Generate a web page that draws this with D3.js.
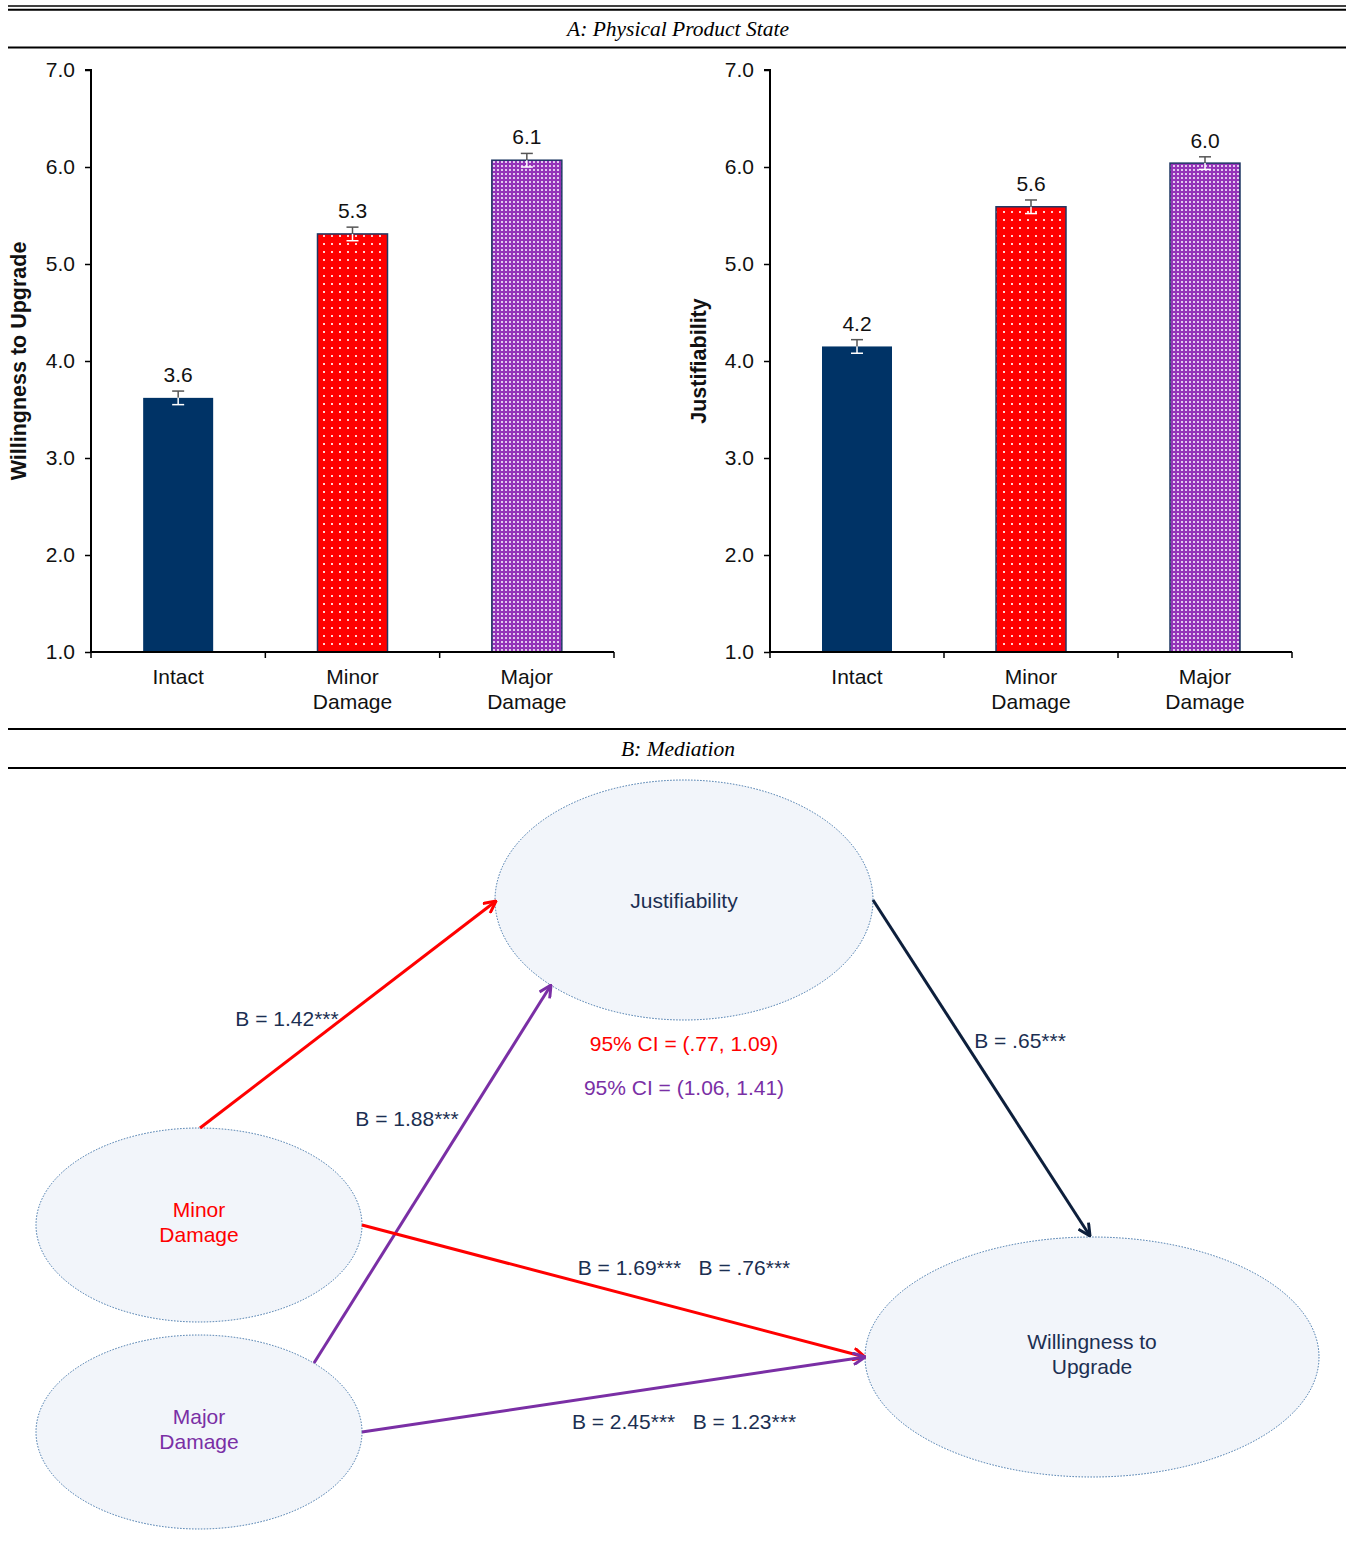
<!DOCTYPE html>
<html>
<head>
<meta charset="utf-8">
<script src="https://cdn.jsdelivr.net/npm/d3@7"></script>
<style>
  body { margin: 0; background: #fff; }
  svg text { font-family: "Liberation Sans", Arial, sans-serif; }
  .hdr { font-family: "Liberation Serif", "Times New Roman", serif !important; font-style: italic; font-size: 21.5px; }
</style>
</head>
<body>
<svg id="chart" width="1346" height="1557"></svg>
<script>
// ---- data ----
const categories = ["Intact", "Minor Damage", "Major Damage"];
const catLines = [["Intact"], ["Minor", "Damage"], ["Major", "Damage"]];
const willingness = [3.62, 5.31, 6.07];
const willingnessLabels = ["3.6", "5.3", "6.1"];
const willingnessErr = [0.07, 0.07, 0.07];
const justifiability = [4.15, 5.59, 6.04];
const justifiabilityLabels = ["4.2", "5.6", "6.0"];
const justifiabilityErr = [0.07, 0.07, 0.065];
const yTicks = [1, 2, 3, 4, 5, 6, 7];

// mediation model
const nodes = [
  { id: "just", lines: ["Justifiability"], color: "#1b2f52", cx: 684, cy: 900, rx: 189, ry: 120 },
  { id: "minor", lines: ["Minor", "Damage"], color: "#ff0000", cx: 199, cy: 1225, rx: 163, ry: 97 },
  { id: "major", lines: ["Major", "Damage"], color: "#7a2fa5", cx: 199, cy: 1432, rx: 163, ry: 97 },
  { id: "wtu", lines: ["Willingness to", "Upgrade"], color: "#1b2f52", cx: 1092, cy: 1357, rx: 227, ry: 120 }
];
const paths = [
  { from: [200, 1128], to: [496, 901], color: "#ff0000" },
  { from: [314, 1363], to: [551, 985], color: "#7a2fa5" },
  { from: [873, 900], to: [1090, 1236], color: "#0d1f3c" },
  { from: [362, 1225], to: [865, 1357], color: "#ff0000" },
  { from: [362, 1432], to: [865, 1357], color: "#7a2fa5" }
];
const pathLabels = [
  { text: "B = 1.42***", x: 287, y: 1018, color: "#1b2f52" },
  { text: "B = 1.88***", x: 407, y: 1118, color: "#1b2f52" },
  { text: "B = .65***", x: 1020, y: 1040, color: "#1b2f52" },
  { text: "B = 1.69***   B = .76***", x: 684, y: 1267, color: "#1b2f52" },
  { text: "B = 2.45***   B = 1.23***", x: 684, y: 1421, color: "#1b2f52" },
  { text: "95% CI = (.77, 1.09)", x: 684, y: 1043, color: "#ff0000" },
  { text: "95% CI = (1.06, 1.41)", x: 684, y: 1087, color: "#7a2fa5" }
];

const FS = 21;
const svg = d3.select("#chart");
const defs = svg.append("defs");

// bar fills
const pRed = defs.append("pattern").attr("id", "dotRed").attr("patternUnits", "userSpaceOnUse")
  .attr("width", 8).attr("height", 8);
pRed.append("rect").attr("width", 8).attr("height", 8).attr("fill", "#ff0000");
pRed.append("rect").attr("x", 3).attr("y", 3).attr("width", 2).attr("height", 2).attr("fill", "#ffd0d0");

const pPur = defs.append("pattern").attr("id", "dotPurple").attr("patternUnits", "userSpaceOnUse")
  .attr("width", 4).attr("height", 4);
pPur.append("rect").attr("width", 4).attr("height", 4).attr("fill", "#9433b8");
pPur.append("rect").attr("x", 1).attr("y", 1).attr("width", 2).attr("height", 2).attr("fill", "#e2c8ee");

const fills = ["#003366", "url(#dotRed)", "url(#dotPurple)"];

// arrow markers
paths.forEach((p, i) => {
  defs.append("marker").attr("id", "arr" + i)
    .attr("viewBox", "0 0 14 14").attr("refX", 13).attr("refY", 7)
    .attr("markerWidth", 14).attr("markerHeight", 14)
    .attr("markerUnits", "userSpaceOnUse").attr("orient", "auto")
    .append("path").attr("d", "M1,1 L13,7 L1,13")
    .attr("fill", "none").attr("stroke", p.color).attr("stroke-width", 3);
});

// ---- header rules ----
function rule(y, w) {
  svg.append("line").attr("x1", 8).attr("x2", 1346).attr("y1", y).attr("y2", y)
    .attr("stroke", "#000").attr("stroke-width", w);
}
rule(6, 1.7); rule(9.8, 2); rule(47.5, 2);
rule(729, 2); rule(768, 2);
svg.append("text").attr("class", "hdr").attr("x", 678).attr("y", 36).attr("text-anchor", "middle")
  .text("A: Physical Product State");
svg.append("text").attr("class", "hdr").attr("x", 678).attr("y", 756).attr("text-anchor", "middle")
  .text("B: Mediation");

// ---- bar panels ----
function panel(x0, x1, values, labels, errs, title, titleX) {
  const y = d3.scaleLinear().domain([1, 7]).range([652, 70]);
  const x = d3.scaleBand().domain(categories).range([x0, x1]).paddingInner(0).paddingOuter(0);
  const g = svg.append("g");

  const yAxis = g.append("g").attr("transform", `translate(${x0},0)`)
    .call(d3.axisLeft(y).tickValues(yTicks).tickFormat(d3.format(".1f")).tickSize(6).tickPadding(10));
  yAxis.select(".domain").attr("stroke-width", 2).attr("d", `M-6,${y(7)}H0V${y(1)}`);
  yAxis.selectAll(".tick line").attr("stroke-width", 1.5);
  yAxis.selectAll("text").attr("font-size", FS).attr("fill", "#111")
    .attr("font-family", "Liberation Sans, Arial, sans-serif");

  const bw = 70;
  g.selectAll(".bar").data(values).join("rect")
    .attr("x", (d, i) => x(categories[i]) + x.bandwidth() / 2 - bw / 2)
    .attr("y", d => y(d)).attr("width", bw).attr("height", d => y(1) - y(d))
    .attr("fill", (d, i) => fills[i])
    .attr("stroke", "#1f3864").attr("stroke-width", (d, i) => i === 0 ? 0 : 1.5);

  // error bars
  values.forEach((v, i) => {
    const cx = x(categories[i]) + x.bandwidth() / 2;
    const e = errs[i];
    g.append("line").attr("x1", cx).attr("x2", cx).attr("y1", y(v + e)).attr("y2", y(v))
      .attr("stroke", "#555").attr("stroke-width", 1.5);
    g.append("line").attr("x1", cx - 6).attr("x2", cx + 6).attr("y1", y(v + e)).attr("y2", y(v + e))
      .attr("stroke", "#555").attr("stroke-width", 1.5);
    g.append("line").attr("x1", cx).attr("x2", cx).attr("y1", y(v)).attr("y2", y(v - e))
      .attr("stroke", "#fff").attr("stroke-width", 1.5);
    g.append("line").attr("x1", cx - 6).attr("x2", cx + 6).attr("y1", y(v - e)).attr("y2", y(v - e))
      .attr("stroke", "#fff").attr("stroke-width", 1.5);
    g.append("text").attr("x", cx).attr("y", y(v + e) - 9).attr("text-anchor", "middle")
      .attr("font-size", FS).attr("fill", "#111").text(labels[i]);
  });

  // x axis
  g.append("line").attr("x1", x0).attr("x2", x1).attr("y1", y(1)).attr("y2", y(1))
    .attr("stroke", "#000").attr("stroke-width", 2);
  const bounds = [x0].concat(categories.map(c => x(c) + x.bandwidth()));
  g.selectAll(".xt").data(bounds).join("line")
    .attr("x1", d => d).attr("x2", d => d).attr("y1", y(1)).attr("y2", y(1) + 6)
    .attr("stroke", "#000").attr("stroke-width", 1.5);
  catLines.forEach((ls, i) => {
    const t = g.append("text").attr("text-anchor", "middle").attr("font-size", FS).attr("fill", "#111");
    ls.forEach((l, j) => t.append("tspan").attr("x", x(categories[i]) + x.bandwidth() / 2)
      .attr("y", 684 + j * 25).text(l));
  });

  g.append("text").attr("transform", `translate(${titleX},361) rotate(-90)`)
    .attr("text-anchor", "middle").attr("font-size", 21.5).attr("font-weight", "bold")
    .attr("fill", "#111").text(title);
}
panel(91, 614, willingness, willingnessLabels, willingnessErr, "Willingness to Upgrade", 26);
panel(770, 1292, justifiability, justifiabilityLabels, justifiabilityErr, "Justifiability", 706);

// ---- mediation diagram ----
const m = svg.append("g");
m.selectAll("ellipse").data(nodes).join("ellipse")
  .attr("cx", d => d.cx).attr("cy", d => d.cy).attr("rx", d => d.rx).attr("ry", d => d.ry)
  .attr("fill", "#f2f5fa").attr("stroke", "#3f73a8").attr("stroke-width", 1)
  .attr("stroke-dasharray", "1.5,1.5");

nodes.forEach(n => {
  const t = m.append("text").attr("text-anchor", "middle").attr("font-size", FS).attr("fill", n.color);
  const off = (n.lines.length - 1) * 15.5;
  n.lines.forEach((l, j) => t.append("tspan").attr("x", n.cx).attr("y", n.cy - off + j * 25 + 7.5).text(l));
});

m.selectAll(".arrow").data(paths).join("line")
  .attr("x1", d => d.from[0]).attr("y1", d => d.from[1])
  .attr("x2", d => d.to[0]).attr("y2", d => d.to[1])
  .attr("stroke", d => d.color).attr("stroke-width", 3)
  .attr("marker-end", (d, i) => `url(#arr${i})`);

m.selectAll(".plab").data(pathLabels).join("text")
  .attr("x", d => d.x).attr("y", d => d.y + 7.5).attr("text-anchor", "middle")
  .attr("font-size", FS).attr("fill", d => d.color).attr("xml:space", "preserve")
  .style("white-space", "pre").text(d => d.text);
</script>
</body>
</html>
